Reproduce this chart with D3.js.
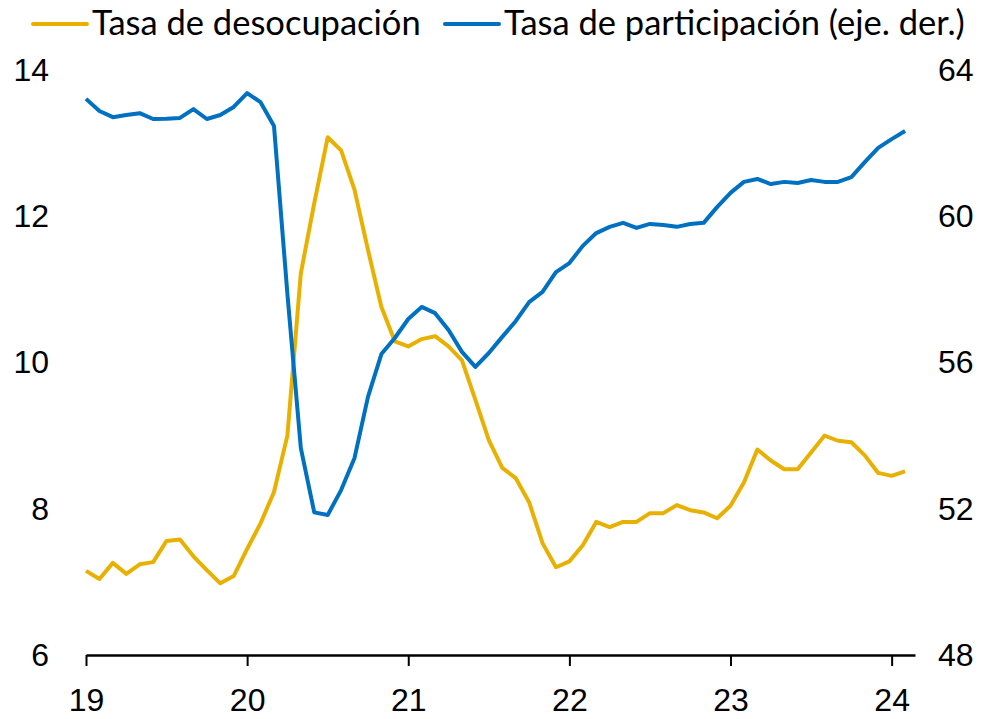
<!DOCTYPE html>
<html>
<head>
<meta charset="utf-8">
<script src="https://cdnjs.cloudflare.com/ajax/libs/d3/7.8.5/d3.min.js"></script>
<style>
  body { margin: 0; background: #fff; }
  svg { display: block; font-family: Lato, "Open Sans", sans-serif; }
  .tick text { fill: #000; }
</style>
</head>
<body>
<script>
// monthly data, jan 2019 - feb 2024 (x in years, 19 = jan 2019)
var months = d3.range(62).map(function(i) { return 19 + i / 12; });

var desocupacion = [
  7.15, 7.04, 7.26, 7.11, 7.24, 7.27, 7.56, 7.58, 7.35, 7.16, 6.98, 7.08,
  7.45, 7.80, 8.23, 9.00, 11.22, 12.18, 13.08, 12.90, 12.36, 11.54, 10.76, 10.29,
  10.22, 10.32, 10.36, 10.22, 10.03, 9.49, 8.94, 8.56, 8.42, 8.09, 7.53, 7.20,
  7.28, 7.50, 7.82, 7.75, 7.82, 7.82, 7.94, 7.94, 8.05, 7.98, 7.95, 7.87,
  8.04, 8.36, 8.81, 8.66, 8.54, 8.54, 8.77, 9.00, 8.93, 8.91, 8.73, 8.49,
  8.45, 8.51
];

var participacion = [
  63.21, 62.88, 62.71, 62.77, 62.82, 62.66, 62.67, 62.69, 62.93, 62.66, 62.77, 62.99,
  63.37, 63.12, 62.47, 57.87, 53.66, 51.90, 51.83, 52.51, 53.39, 55.06, 56.23, 56.67,
  57.19, 57.52, 57.35, 56.89, 56.29, 55.88, 56.26, 56.70, 57.13, 57.65, 57.93, 58.47,
  58.72, 59.19, 59.54, 59.71, 59.82, 59.68, 59.79, 59.76, 59.71, 59.79, 59.82, 60.25,
  60.64, 60.94, 61.02, 60.88, 60.94, 60.91, 60.99, 60.94, 60.94, 61.07, 61.48, 61.87,
  62.11, 62.33
];

var xTicks = [19, 20, 21, 22, 23, 24];
var leftTicks = [6, 8, 10, 12, 14];
var rightTicks = [48, 52, 56, 60, 64];

var gold = "#E8B000", blue = "#0070C0";

var margin = {top: 70, right: 77, bottom: 64, left: 86},
    width = 992 - margin.left - margin.right,
    height = 719 - margin.top - margin.bottom;

// scales
var x = d3.scaleLinear().domain([19, 24.145]).range([0, width]);
var yL = d3.scaleLinear().domain([6, 14]).range([height, 0]);
var yR = d3.scaleLinear().domain([48, 64]).range([height, 0]);

var svg = d3.select("body").append("svg")
    .attr("width", 992)
    .attr("height", 719);

var g = svg.append("g")
    .attr("transform", "translate(" + margin.left + "," + margin.top + ")");

// left axis (labels only)
var left = g.append("g")
    .call(d3.axisLeft(yL).tickValues(leftTicks).tickSize(0).tickPadding(37));
left.select(".domain").remove();
left.selectAll("text").style("font-size", "32px");

// right axis (labels only)
var right = g.append("g")
    .attr("transform", "translate(" + width + ",0)")
    .call(d3.axisRight(yR).tickValues(rightTicks).tickSize(0).tickPadding(23));
right.select(".domain").remove();
right.selectAll("text").style("font-size", "32px");

// lines
var lineL = d3.line()
    .x(function(d, i) { return x(months[i]); })
    .y(function(d) { return yL(d); });
var lineR = d3.line()
    .x(function(d, i) { return x(months[i]); })
    .y(function(d) { return yR(d); });

g.append("path")
    .datum(desocupacion)
    .attr("fill", "none")
    .attr("stroke", gold)
    .attr("stroke-width", 4)
    .attr("stroke-linejoin", "round")
    .attr("d", lineL);

g.append("path")
    .datum(participacion)
    .attr("fill", "none")
    .attr("stroke", blue)
    .attr("stroke-width", 4)
    .attr("stroke-linejoin", "round")
    .attr("d", lineR);

// bottom axis
var bottom = g.append("g")
    .attr("transform", "translate(0," + height + ")")
    .call(d3.axisBottom(x).tickValues(xTicks).tickFormat(d3.format("d"))
      .tickSizeInner(11).tickSizeOuter(0).tickPadding(22));
bottom.select(".domain").attr("stroke", "#000").attr("stroke-width", 2.5);
bottom.selectAll(".tick line").attr("stroke", "#000").attr("stroke-width", 2);
bottom.selectAll("text").style("font-size", "32px");

// legend
var legend = [
  {name: "Tasa de desocupación", color: gold, x: 33},
  {name: "Tasa de participación (eje. der.)", color: blue, x: 445}
];
var lg = svg.selectAll(".legend").data(legend).enter().append("g")
    .attr("class", "legend")
    .attr("transform", function(d) { return "translate(" + d.x + ",24)"; });
lg.append("line")
    .attr("x1", 0).attr("x2", 54)
    .attr("stroke", function(d) { return d.color; })
    .attr("stroke-width", 4)
    .attr("stroke-linecap", "round");
lg.append("text")
    .attr("x", 59)
    .attr("y", 11)
    .style("font-size", "34.5px")
    .attr("fill", "#000")
    .text(function(d) { return d.name; });
</script>
</body>
</html>
